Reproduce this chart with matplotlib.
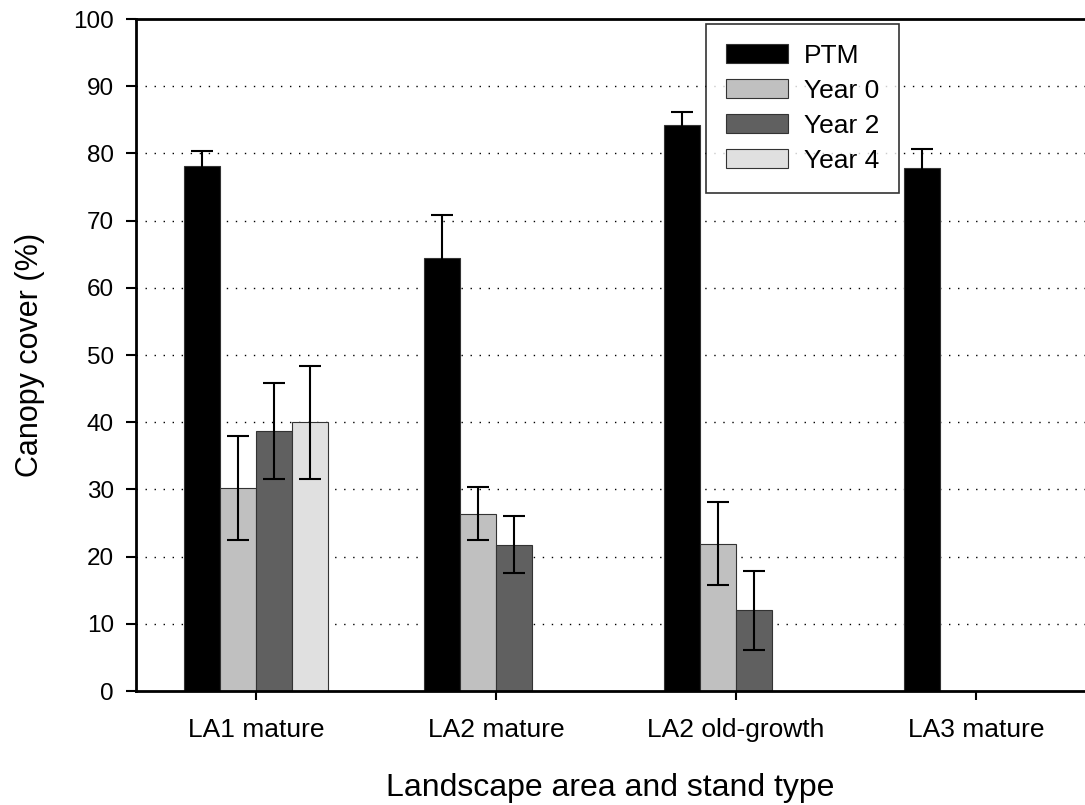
import numpy as np
import matplotlib
matplotlib.use('Agg')
import matplotlib.pyplot as plt
from matplotlib.patches import Patch

plt.rcParams['font.family'] = ['Liberation Sans', 'DejaVu Sans']

stands = ['LA1 mature', 'LA2 mature', 'LA2 old-growth', 'LA3 mature']
series = ['PTM', 'Year 0', 'Year 2', 'Year 4']
colors = ['#000000', '#c0c0c0', '#606060', '#e0e0e0']

# mean canopy cover (%) and error, NaN = no data
ptm = [78.1, 64.4, 84.2, 77.8]
ptm_err = [2.3, 6.5, 2.0, 2.9]
year0 = [30.2, 26.4, 21.9, np.nan]
year0_err = [7.8, 4.0, 6.2, np.nan]
year2 = [38.7, 21.8, 12.0, np.nan]
year2_err = [7.1, 4.2, 5.9, np.nan]
year4 = [40.0, np.nan, np.nan, np.nan]
year4_err = [8.4, np.nan, np.nan, np.nan]

means = [ptm, year0, year2, year4]
errs = [ptm_err, year0_err, year2_err, year4_err]

fig = plt.figure(figsize=(10.85, 8.05), dpi=100)
ax = fig.add_axes([136 / 1085, 1 - 691 / 805, 1 - 136 / 1085, (691 - 19) / 805])

x = np.arange(len(stands))
w = 0.15
for i, (m, e) in enumerate(zip(means, errs)):
    pos = x + (i - 1.5) * w
    m = np.array(m)
    e = np.array(e)
    ok = ~np.isnan(m)
    ax.bar(pos[ok], m[ok], w, color=colors[i], edgecolor='#333333', linewidth=0.8, zorder=2)
    ax.errorbar(pos[ok], m[ok], yerr=e[ok], fmt='none', ecolor='black',
                elinewidth=1.5, capsize=7.8, capthick=1.5, zorder=3)

ax.set_xlim(-0.5, 3.454)
ax.set_ylim(0, 100)
ax.set_yticks(np.arange(0, 101, 10))
ax.set_xticks(x)
ax.set_xticklabels(stands, fontsize=19)
ax.tick_params(axis='y', labelsize=17.5, length=7, width=1.5, pad=9)
ax.tick_params(axis='x', length=6.5, width=1.5, pad=13)

for yv in range(10, 100, 10):
    ax.axhline(yv, color='black', linewidth=1.0, linestyle=(0, (1, 5.5)), zorder=1)

for s in ['left', 'bottom', 'top']:
    ax.spines[s].set_linewidth(2)
ax.spines['right'].set_visible(False)

ax.set_ylabel('Canopy cover (%)', fontsize=22, labelpad=20)
ax.set_xlabel('Landscape area and stand type', fontsize=23, labelpad=22)

handles = [Patch(facecolor=c, edgecolor='#333333', linewidth=0.8) for c in colors]
leg = ax.legend(handles, series, fontsize=19, loc='upper left',
                bbox_to_anchor=(706 / 1085, 1 - 24 / 805), bbox_transform=fig.transFigure,
                borderaxespad=0, frameon=True, fancybox=False, edgecolor='black',
                handlelength=2.35, handleheight=0.72, labelspacing=0.42,
                handletextpad=0.6, borderpad=0.75)
leg.get_frame().set_linewidth(1.2)
leg.set_zorder(5)

fig.savefig('out.png', dpi=100)
